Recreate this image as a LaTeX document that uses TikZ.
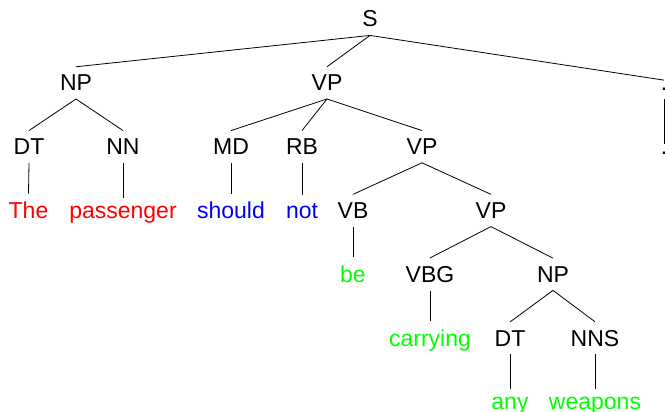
\documentclass[tikz,border=0pt]{standalone}
\usepackage{fontspec}
\setmainfont{Liberation Sans}
\definecolor{wred}{RGB}{255,0,0}
\definecolor{wblue}{RGB}{0,0,255}
\definecolor{wgreen}{RGB}{0,255,0}
\tikzset{
  tn/.style={anchor=base, inner xsep=2pt, inner ysep=8pt, font=\fontsize{23}{27}\selectfont, text=black},
  red leaf/.style={tn, text=wred},
  blue leaf/.style={tn, text=wblue},
  green leaf/.style={tn, text=wgreen},
  edge/.style={draw=black, line width=0.8pt}
}
\begin{document}
\begin{tikzpicture}[x=1pt,y=-1pt]
\useasboundingbox (0,0) rectangle (665,412);
% row 1
\node[tn] (S) at (370,27) {S};
% row 2
\node[tn] (NPa) at (76,90.8) {NP};
\node[tn] (VPa) at (327,90.8) {VP};
\node[tn] (dotP) at (664,90.8) {.};
% row 3
\node[tn] (DTa) at (29,154.6) {DT};
\node[tn] (NN) at (123,154.6) {NN};
\node[tn] (MD) at (231,154.6) {MD};
\node[tn] (RB) at (302,154.6) {RB};
\node[tn] (VPb) at (422,154.6) {VP};
\node[tn] (dotL) at (664,154.6) {.};
% row 4
\node[red leaf] (The) at (28.5,218.4) {The};
\node[red leaf] (passenger) at (123,218.4) {passenger};
\node[blue leaf] (should) at (231,218.4) {should};
\node[blue leaf] (not) at (302,218.4) {not};
\node[tn] (VB) at (353,218.4) {VB};
\node[tn] (VPc) at (491,218.4) {VP};
% row 5
\node[green leaf] (be) at (353,282.2) {be};
\node[tn] (VBG) at (430,282.2) {VBG};
\node[tn] (NPb) at (553,282.2) {NP};
% row 6
\node[green leaf] (carrying) at (430,346) {carrying};
\node[tn] (DTb) at (510,346) {DT};
\node[tn] (NNS) at (595,346) {NNS};
% row 7
\node[green leaf] (any) at (510,409.8) {any};
\node[green leaf] (weapons) at (595,409.8) {weapons};
% edges
\foreach \p/\c in {S/NPa, S/VPa, S/dotP,
  NPa/DTa, NPa/NN, VPa/MD, VPa/RB, VPa/VPb, dotP/dotL,
  DTa/The, NN/passenger, MD/should, RB/not, VPb/VB, VPb/VPc,
  VB/be, VPc/VBG, VPc/NPb,
  VBG/carrying, NPb/DTb, NPb/NNS,
  DTb/any, NNS/weapons}
  \draw[edge] (\p.south) -- (\c.north);
\end{tikzpicture}
\end{document}
